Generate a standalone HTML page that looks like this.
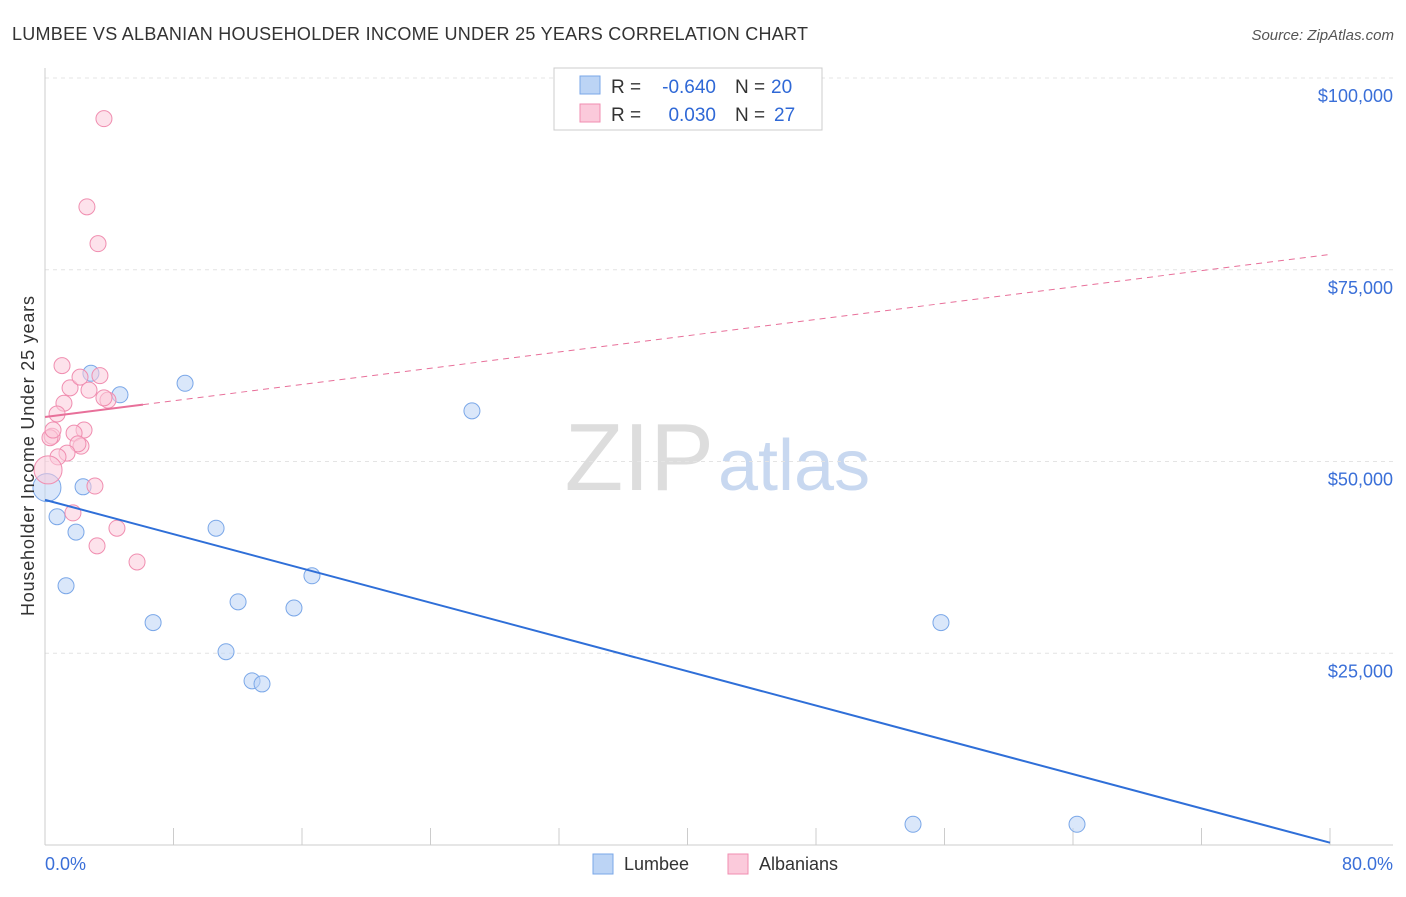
<!DOCTYPE html>
<html><head><meta charset="utf-8"><style>
body{margin:0;background:#fff;font-family:"Liberation Sans",sans-serif}
svg text{font-family:"Liberation Sans",sans-serif}
</style></head><body>
<svg width="1406" height="892">
<text x="12" y="40" font-size="18" fill="#333" textLength="796">LUMBEE VS ALBANIAN HOUSEHOLDER INCOME UNDER 25 YEARS CORRELATION CHART</text>
<text x="1394" y="40" font-size="15" fill="#555" font-style="italic" text-anchor="end">Source: ZipAtlas.com</text>
<text x="714" y="490" font-size="96" fill="#ddd" text-anchor="end" font-family="Liberation Serif">ZIP</text>
<text x="718" y="490" font-size="72" fill="#c8d8f0">atlas</text>
<g id="grid"></g><g id="axes"></g><g id="marks"></g>
<text transform="translate(34,456) rotate(-90)" font-size="18" fill="#333" text-anchor="middle" textLength="320">Householder Income Under 25 years</text>
<text x="45" y="870" font-size="18" fill="#3a6fd8">0.0%</text>
<text x="1393" y="870" font-size="18" fill="#3a6fd8" text-anchor="end">80.0%</text>
<g>
<rect x="554" y="68" width="268" height="62" fill="#fff" stroke="#ccc"/>
<rect x="580" y="76" width="20" height="18" fill="#bcd4f5" stroke="#7aa7e8"/>
<rect x="580" y="104" width="20" height="18" fill="#fbcadb" stroke="#f08eb0"/>
<text x="611" y="93" font-size="19" fill="#333">R =</text>
<text x="716" y="93" font-size="19" fill="#2f68d6" text-anchor="end">-0.640</text>
<text x="735" y="93" font-size="19" fill="#333">N =</text>
<text x="771" y="93" font-size="19" fill="#2f68d6">20</text>
<text x="611" y="121" font-size="19" fill="#333">R =</text>
<text x="716" y="121" font-size="19" fill="#2f68d6" text-anchor="end">0.030</text>
<text x="735" y="121" font-size="19" fill="#333">N =</text>
<text x="774" y="121" font-size="19" fill="#2f68d6">27</text>
</g>
<g>
<rect x="593" y="854" width="20" height="20" fill="#bcd4f5" stroke="#7aa7e8"/>
<text x="624" y="870" font-size="18" fill="#333">Lumbee</text>
<rect x="728" y="854" width="20" height="20" fill="#fbcadb" stroke="#f08eb0"/>
<text x="759" y="870" font-size="18" fill="#333">Albanians</text>
</g>
</svg>
<script>
const yTicks=[25000,50000,75000,100000];
const yTickLabels=["$25,000","$50,000","$75,000","$100,000"];
const lumbeeX=[0.12,0.75,1.31,1.93,2.37,2.86,4.67,6.73,8.72,10.65,11.27,12.02,12.89,13.51,15.5,16.62,26.58,54.04,55.78,64.25];
const lumbeeY=[46.6,42.8,33.8,40.8,46.7,61.5,58.7,29.0,60.2,41.3,25.2,31.7,21.4,21.0,30.9,35.1,56.6,2.7,29.0,2.7];
const albX=[3.67,2.61,3.30,1.06,1.56,2.18,3.42,2.74,3.92,1.18,0.75,0.44,2.43,1.81,2.24,2.05,1.37,0.81,0.19,3.11,1.74,4.48,3.24,5.73,0.31,0.50,3.67];
const albY=[94.7,83.2,78.4,62.5,59.6,61.0,61.2,59.3,58.0,57.6,56.2,53.3,54.1,53.7,52.0,52.3,51.1,50.6,48.9,46.8,43.3,41.3,39.0,36.9,53.1,54.1,58.3];
const lumbeeTrend=[45.0,0.3];
const albTrend=[55.8,77.0];
const NS="http://www.w3.org/2000/svg";
const X=v=>45+v/80*1285;
const Y=k=>845-k*7.67;
function mk(t,a,p){const e=document.createElementNS(NS,t);for(const k in a)e.setAttribute(k,a[k]);document.getElementById(p).appendChild(e);return e;}
yTicks.forEach((t,i)=>{
 const y=Y(t/1000);
 const g=mk('line',{x1:45,x2:1393,y1:y,y2:y,stroke:'#e4e4e4','stroke-dasharray':'4,4'},'grid');
 
 
 const l=mk('text',{x:1393,y:y+24,'font-size':18,fill:'#3a6fd8','text-anchor':'end'},'grid');l.textContent=yTickLabels[i];
 
 
});
mk('line',{x1:45,x2:45,y1:68,y2:845,stroke:'#ccc'},'axes');
mk('line',{x1:45,x2:1393,y1:845,y2:845,stroke:'#ccc'},'axes');
for(let i=0;i<=10;i++){const t=mk('line',{x1:X(i*8),x2:X(i*8),y1:828,y2:845,stroke:'#ccc'},'axes');
 
 }
function dots(xs,ys,fill,stroke,name,bigIdx){xs.forEach((x,i)=>{const c=mk('circle',{cx:X(x),cy:Y(ys[i]),r:i===bigIdx?14:8,fill:fill,'fill-opacity':0.55,stroke:stroke,'stroke-width':1},'marks');
 
 });}
dots(lumbeeX,lumbeeY,'#bcd4f5','#7aa7e8','lumbee-point',0);
dots(albX,albY,'#fbcadb','#f08eb0','albanian-point',18);
const lt=mk('line',{x1:X(0),y1:Y(lumbeeTrend[0]),x2:X(80),y2:Y(lumbeeTrend[1]),stroke:'#2f6fd8','stroke-width':2},'marks');


const ay=x=>albTrend[0]+(albTrend[1]-albTrend[0])*x/80;
const a1=mk('line',{x1:X(0),y1:Y(ay(0)),x2:X(6.1),y2:Y(ay(6.1)),stroke:'#e8709a','stroke-width':2},'marks');


const a2=mk('line',{x1:X(6.1),y1:Y(ay(6.1)),x2:X(80),y2:Y(ay(80)),stroke:'#e8709a','stroke-width':1,'stroke-dasharray':'6,5'},'marks');


</script>
</body></html>
